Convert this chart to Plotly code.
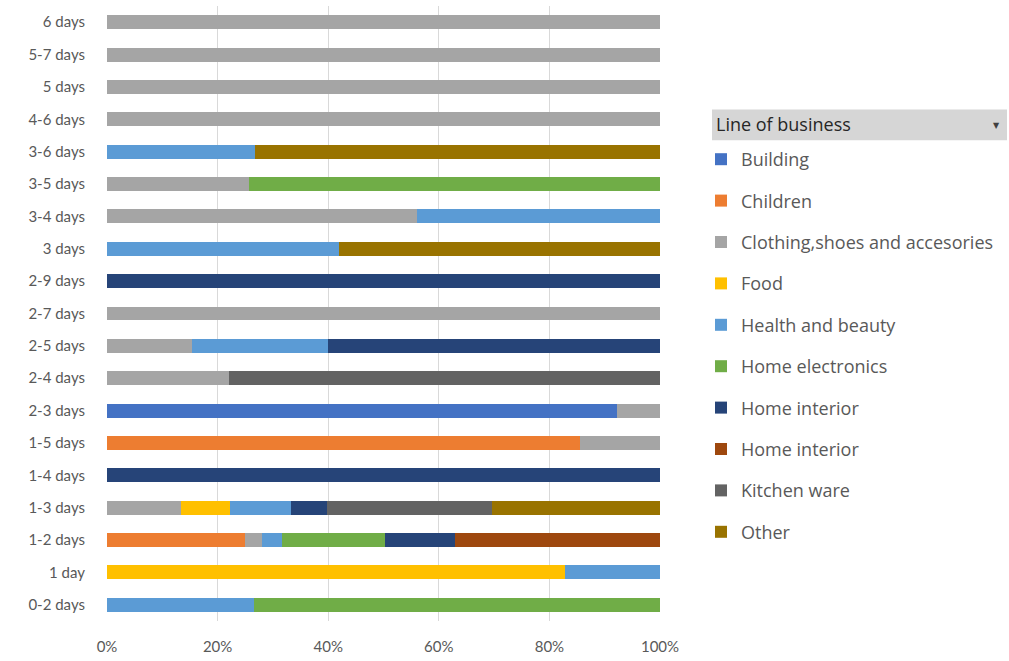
import plotly.graph_objects as go

# Categories (top to bottom as displayed)
categories = ["6 days", "5-7 days", "5 days", "4-6 days", "3-6 days", "3-5 days",
              "3-4 days", "3 days", "2-9 days", "2-7 days", "2-5 days", "2-4 days",
              "2-3 days", "1-5 days", "1-4 days", "1-3 days", "1-2 days", "1 day", "0-2 days"]

# Share (%) per line of business, same order as categories
building        = [0, 0, 0, 0, 0, 0, 0, 0, 0, 0, 0, 0, 92.3, 0, 0, 0, 0, 0, 0]
children        = [0, 0, 0, 0, 0, 0, 0, 0, 0, 0, 0, 0, 0, 85.5, 0, 0, 25.0, 0, 0]
clothing        = [100, 100, 100, 100, 0, 25.6, 56.0, 0, 0, 100, 15.3, 22.1, 7.7, 14.5, 0, 13.3, 3.0, 0, 0]
food            = [0, 0, 0, 0, 0, 0, 0, 0, 0, 0, 0, 0, 0, 0, 0, 9.0, 0, 82.8, 0]
health          = [0, 0, 0, 0, 26.7, 0, 44.0, 42.0, 0, 0, 24.7, 0, 0, 0, 0, 10.9, 3.6, 17.2, 26.5]
electronics     = [0, 0, 0, 0, 0, 74.4, 0, 0, 0, 0, 0, 0, 0, 0, 0, 0, 18.7, 0, 73.5]
home_interior   = [0, 0, 0, 0, 0, 0, 0, 0, 100, 0, 60.0, 0, 0, 0, 100, 6.5, 12.6, 0, 0]
home_interior2  = [0, 0, 0, 0, 0, 0, 0, 0, 0, 0, 0, 0, 0, 0, 0, 0, 37.1, 0, 0]
kitchen         = [0, 0, 0, 0, 0, 0, 0, 0, 0, 0, 0, 77.9, 0, 0, 0, 30.0, 0, 0, 0]
other           = [0, 0, 0, 0, 73.3, 0, 0, 58.0, 0, 0, 0, 0, 0, 0, 0, 30.3, 0, 0, 0]

series_names = ["Building", "Children", "Clothing,shoes and accesories", "Food",
                "Health and beauty", "Home electronics", "Home interior", "Home interior",
                "Kitchen ware", "Other"]
series_values = [building, children, clothing, food, health, electronics,
                 home_interior, home_interior2, kitchen, other]
colors = ["#4472C4", "#ED7D31", "#A5A5A5", "#FFC000", "#5B9BD5", "#70AD47",
          "#264478", "#9E480E", "#636363", "#997300"]

x_ticks = [0, 20, 40, 60, 80, 100]
x_tick_labels = ["0%", "20%", "40%", "60%", "80%", "100%"]

FONT = "Lato"
LEG_FONT = "Open Sans"
W, H = 1009, 661
ML, MR, MT, MB = 107, 349, 6, 37

fig = go.Figure()
for i, (name, vals, col) in enumerate(zip(series_names, series_values, colors)):
    fig.add_trace(go.Bar(
        y=categories, x=vals, name=name, orientation="h",
        marker=dict(color=col, line=dict(width=0)),
        legendgroup=f"g{i}",
    ))

pw = W - ML - MR
ph = H - MT - MB

def px_x(px):
    return (px - ML) / pw

def px_y(py):
    return (H - MB - py) / ph

fig.update_layout(
    width=W, height=H,
    barmode="stack", bargap=0.57,
    plot_bgcolor="white", paper_bgcolor="white",
    margin=dict(l=ML, r=MR, t=MT, b=MB),
    font=dict(family=FONT, size=15, color="#595959"),
    xaxis=dict(range=[0, 100], tickvals=x_ticks, ticktext=x_tick_labels,
               showgrid=True, gridcolor="#D9D9D9", gridwidth=1,
               zeroline=False, showline=False, ticks="", ticklabelstandoff=15,
               fixedrange=True),
    yaxis=dict(categoryorder="array", categoryarray=categories, autorange="reversed",
               showgrid=False, zeroline=False, showline=False, ticks="",
               ticklabelstandoff=21),
    showlegend=True,
    legend=dict(xref="container", yref="container", x=701 / W, y=1 - 141 / H,
                xanchor="left", yanchor="top", traceorder="grouped",
                tracegroupgap=15, font=dict(family=LEG_FONT, size=18, color="#595959"),
                itemwidth=30, bgcolor="rgba(0,0,0,0)", maxheight=600),
    shapes=[dict(type="rect", xref="paper", yref="paper",
                 x0=px_x(712), x1=px_x(1007), y0=px_y(141), y1=px_y(110),
                 fillcolor="#D6D6D6", line=dict(width=0), layer="below")],
    annotations=[
        dict(xref="paper", yref="paper", x=px_x(714), y=px_y(125), text="Line of business",
             showarrow=False, xanchor="left", yanchor="middle",
             font=dict(family=LEG_FONT, size=18, color="#262626")),
        dict(xref="paper", yref="paper", x=px_x(996), y=px_y(126), text="▼",
             showarrow=False, xanchor="center", yanchor="middle",
             font=dict(family="DejaVu Sans", size=8, color="#404040")),
    ],
)

fig.write_html("out.html")
